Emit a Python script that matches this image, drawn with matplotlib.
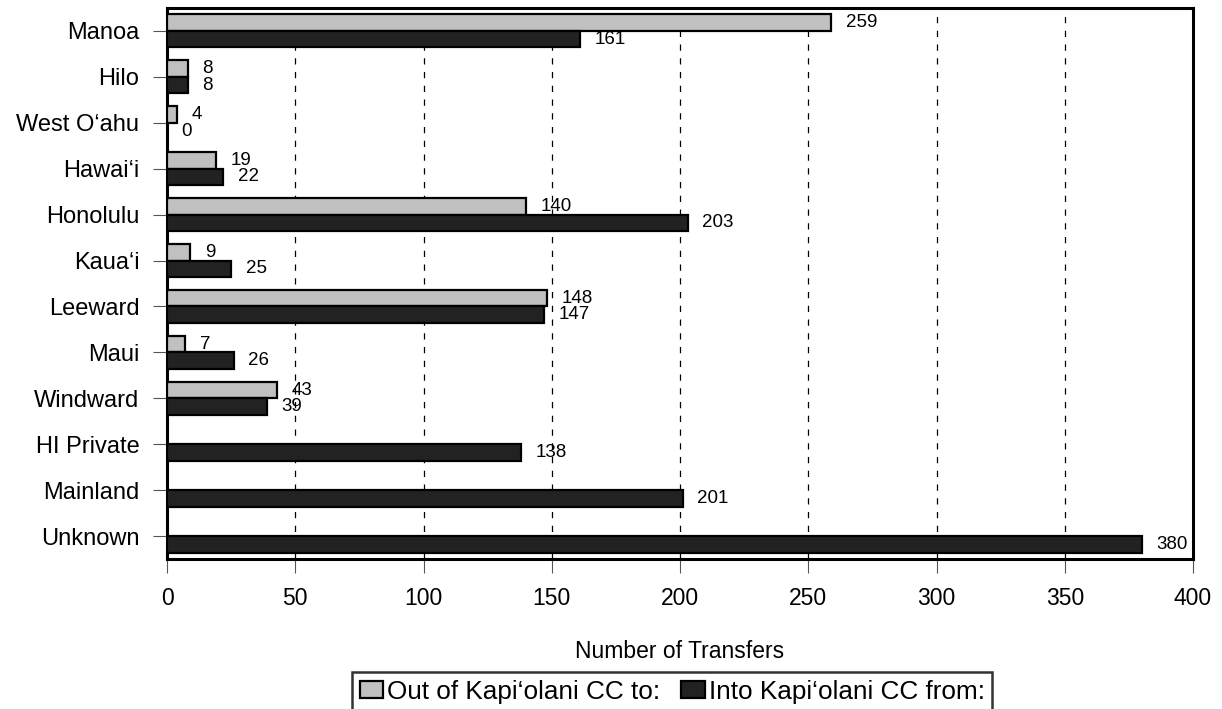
import matplotlib
matplotlib.use("Agg")
import matplotlib.pyplot as plt
import numpy as np

plt.rcParams['font.family'] = ['Liberation Sans', 'DejaVu Sans']

# categories (top to bottom)
campuses = ["Manoa", "Hilo", "West O‘ahu", "Hawai‘i", "Honolulu", "Kaua‘i",
            "Leeward", "Maui", "Windward", "HI Private", "Mainland", "Unknown"]
# transfers out of Kapi'olani CC to each campus (none for the last three)
out_to = [259, 8, 4, 19, 140, 9, 148, 7, 43, None, None, None]
# transfers into Kapi'olani CC from each campus
into_from = [161, 8, 0, 22, 203, 25, 147, 26, 39, 138, 201, 380]

xticks = [0, 50, 100, 150, 200, 250, 300, 350, 400]

fig = plt.figure(figsize=(12.22, 7.09), dpi=100)
ax = fig.add_axes([0.1367, 0.2116, 0.8396, 0.7771])

y = np.arange(len(campuses))
h = 0.36

out_vals = np.array([np.nan if v is None else v for v in out_to], dtype=float)
into_vals = np.array(into_from, dtype=float)

gray = ax.barh(y - h / 2, np.nan_to_num(out_vals), height=h, color="#c0c0c0",
               edgecolor="black", linewidth=1.6, zorder=3,
               label="Out of Kapi‘olani CC to:")
dark = ax.barh(y + h / 2, into_vals, height=h, color="#222222",
               edgecolor="black", linewidth=1.6, zorder=3,
               label="Into Kapi‘olani CC from:")

# hide gray bars with no data
for rect, v in zip(gray, out_vals):
    if np.isnan(v):
        rect.set_visible(False)
for rect, v in zip(dark, into_vals):
    if v == 0:
        rect.set_linewidth(0)

# value labels
for yi, v in zip(y, out_vals):
    if not np.isnan(v):
        ax.annotate(f"{int(v)}", (v, yi - h / 2), xytext=(10.5, 0),
                    textcoords="offset points", ha="left", va="center",
                    fontsize=13.5, zorder=4)
for yi, v in zip(y, into_vals):
    ax.annotate(f"{int(v)}", (v, yi + h / 2), xytext=(10.5, 0),
                textcoords="offset points", ha="left", va="center",
                fontsize=13.5, zorder=4)

ax.set_xlim(0, 400)
ax.set_ylim(len(campuses) - 0.5, -0.5)
ax.set_xticks(xticks)
ax.set_yticks(y)
ax.set_yticklabels(campuses)

for x in xticks[1:-1]:
    ax.axvline(x, color="black", linewidth=0.9, linestyle=(0, (5, 6)), zorder=1)

for s in ax.spines.values():
    s.set_linewidth(2.2)

ax.tick_params(axis="x", direction="out", length=10, width=0.8, color="#555555",
               labelsize=16.5, pad=10)
ax.tick_params(axis="y", direction="out", length=10, width=0.8, color="#555555",
               labelsize=17, pad=10)

ax.set_xlabel("Number of Transfers", fontsize=16.5, labelpad=22)

leg = fig.legend(handles=[gray, dark], loc="upper center",
                 bbox_to_anchor=(0.55, 0.052), ncol=2, fontsize=18.8,
                 handlelength=0.9, handleheight=0.62, handletextpad=0.15,
                 columnspacing=0.8, borderpad=0.3, borderaxespad=0,
                 fancybox=False, frameon=True, edgecolor="black")
leg.get_frame().set_linewidth(1.8)

fig.savefig("out.png", dpi=100)
